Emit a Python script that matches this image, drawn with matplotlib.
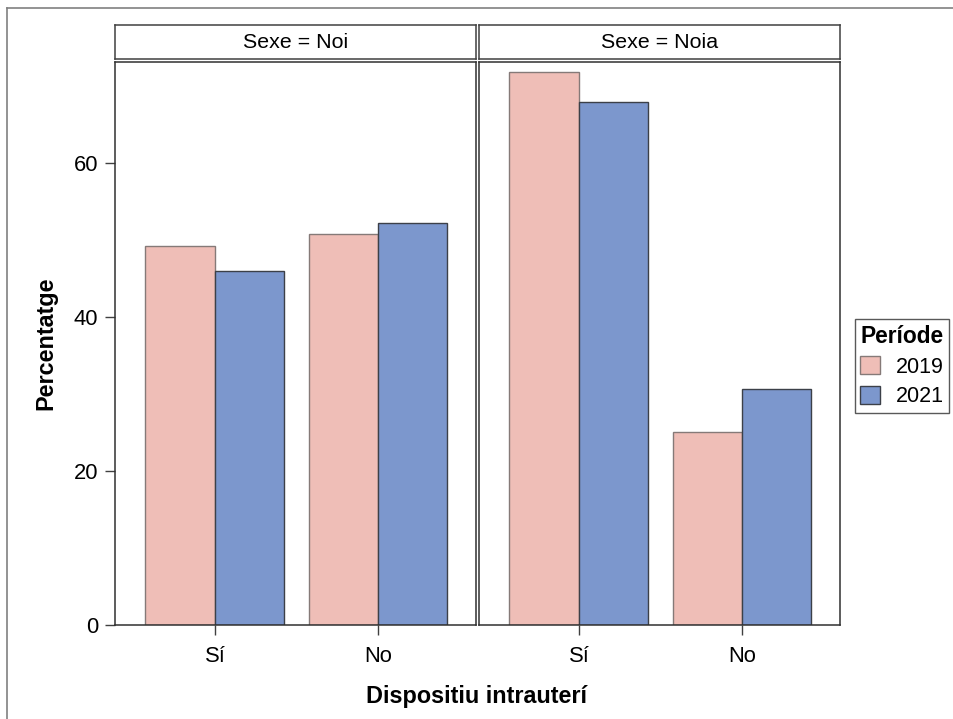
import numpy as np
import matplotlib
matplotlib.use("Agg")
from matplotlib import pyplot as plt
from matplotlib.patches import Patch
from matplotlib.lines import Line2D

plt.rcParams['font.family'] = ['Liberation Sans', 'DejaVu Sans']

# data
panels = ['Sexe = Noi', 'Sexe = Noia']
categories = ['Sí', 'No']
periods = ['2019', '2021']
values_2019 = {'Sexe = Noi': [49.2, 50.8], 'Sexe = Noia': [71.8, 25.0]}
values_2021 = {'Sexe = Noi': [46.0, 52.2], 'Sexe = Noia': [67.9, 30.6]}

fill_colors = ['#efbeb7', '#7c97cd']
edge_colors = ['#857a78', '#3c4048']

fig = plt.figure(figsize=(9.54, 7.19), dpi=100)
W, H = 954, 719

def fx(px):
    return px / W

def fy(py):
    return 1 - py / H

# gray outer frame (top and left edge visible)
fig.add_artist(Line2D([fx(7), 1], [fy(8), fy(8)], color='#808080', lw=1.2))
fig.add_artist(Line2D([fx(7), fx(7)], [fy(8), 0], color='#808080', lw=1.2))

panel_left = [115, 479]
panel_w = 361
top, bottom = 62, 625
hdr_top, hdr_bot = 25, 59

x = np.arange(len(categories))
bw = 0.426
axes = []
for i, p in enumerate(panels):
    ax = fig.add_axes([fx(panel_left[i]), fy(bottom), fx(panel_w), (bottom - top) / H])
    axes.append(ax)
    ax.bar(x - bw / 2, values_2019[p], bw, color=fill_colors[0], edgecolor=edge_colors[0], lw=1.0, zorder=2)
    ax.bar(x + bw / 2, values_2021[p], bw, color=fill_colors[1], edgecolor=edge_colors[1], lw=1.0, zorder=2)
    ax.set_xlim(-0.613, 1.601)
    ax.set_ylim(0, 73.1)
    ax.set_xticks(x)
    ax.set_xticklabels(categories)
    ax.set_yticks([0, 20, 40, 60])
    ax.tick_params(direction='out', length=7, width=1, color='#404040', labelsize=15.8)
    ax.tick_params(axis='x', pad=8)
    ax.tick_params(axis='y', pad=5)
    for s in ax.spines.values():
        s.set_color('#303030')
        s.set_linewidth(1.1)
    if i > 0:
        ax.tick_params(axis='y', left=False, labelleft=False)
    # header strip
    hax = fig.add_axes([fx(panel_left[i]), fy(hdr_bot), fx(panel_w), (hdr_bot - hdr_top) / H])
    hax.set_xticks([])
    hax.set_yticks([])
    for s in hax.spines.values():
        s.set_color('#404040')
        s.set_linewidth(1.1)
    hax.text(0.5, 0.5, p, ha='center', va='center', fontsize=15.4, transform=hax.transAxes)

axes[0].set_ylabel('Percentatge', fontsize=16.8, fontweight='bold', labelpad=12)
fig.text(fx(477), fy(697), 'Dispositiu intrauterí', ha='center', va='center', fontsize=16.8, fontweight='bold')

handles = [Patch(facecolor=fill_colors[k], edgecolor=edge_colors[k], label=periods[k]) for k in range(2)]
leg = fig.legend(handles=handles, title='Període', loc='center', bbox_to_anchor=(fx(902), fy(366)),
                 fontsize=15.5, title_fontproperties={'weight': 'bold', 'size': 16.4},
                 frameon=True, fancybox=False, edgecolor='#303030', handlelength=0.9, handleheight=0.9,
                 handletextpad=0.75, borderpad=0.25, labelspacing=0.4, borderaxespad=0)
leg.get_frame().set_linewidth(1.0)

fig.savefig('out.png', dpi=100)
